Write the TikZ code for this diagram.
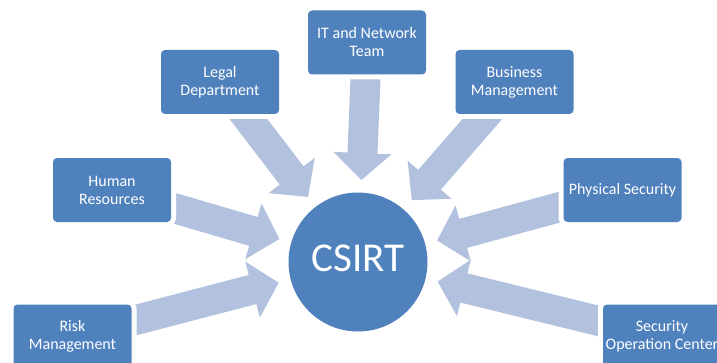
\documentclass[tikz,border=0pt]{standalone}
\usepackage{fontspec}
\setmainfont{Carlito}
\usetikzlibrary{calc,backgrounds}
\definecolor{boxblue}{HTML}{4F81BD}
\definecolor{arrowblue}{HTML}{B2C2DE}
\tikzset{
  unitbox/.style={fill=boxblue, rounded corners=4pt, minimum width=118pt, minimum height=64pt,
    inner sep=0pt, align=center, text=white, font=\fontsize{16}{18}\selectfont,
    preaction={draw=white, line width=10pt}},
  hub/.style={circle, fill=boxblue, minimum size=139pt, inner sep=0pt, text=white,
    font=\fontsize{41}{46}\selectfont, text depth=8pt},
  arrowfill/.style={fill=arrowblue}
}
\newcommand{\radarrow}[1]{%
  \fill[arrowfill] ($(c)!82pt!(#1)$)
    -- ($(c)!109pt!(#1)!29pt!90:(#1)$)
    -- ($(c)!109pt!(#1)!15pt!90:(#1)$)
    -- ($(#1)!15pt!-90:(c)$)
    -- ($(#1)!15pt!90:(c)$)
    -- ($(c)!109pt!(#1)!15pt!-90:(#1)$)
    -- ($(c)!109pt!(#1)!29pt!-90:(#1)$)
    -- cycle;}
\begin{document}
\begin{tikzpicture}[x=1pt,y=1pt]
\useasboundingbox (0,0) rectangle (717,362);
\node[hub] (c) at (358,100) {CSIRT};
\node[unitbox] (it) at (367,319.5) {IT and Network\\Team};
\node[unitbox] (legal) at (220,280) {Legal\\Department};
\node[unitbox] (bus) at (514.5,280) {Business\\Management};
\node[unitbox] (hr) at (112,172) {Human\\Resources};
\node[unitbox] (phys) at (622.5,172) {Physical Security};
\node[unitbox] (risk) at (72.5,25.5) {Risk\\Management};
\node[unitbox] (soc) at (662,25.5) {Security\\Operation Center};
\begin{scope}[on background layer]
\fill[white] (0,0) rectangle (717,362);
\radarrow{it}
\radarrow{legal}
\radarrow{bus}
\radarrow{hr}
\radarrow{phys}
\radarrow{risk}
\radarrow{soc}
\end{scope}
\end{tikzpicture}
\end{document}
